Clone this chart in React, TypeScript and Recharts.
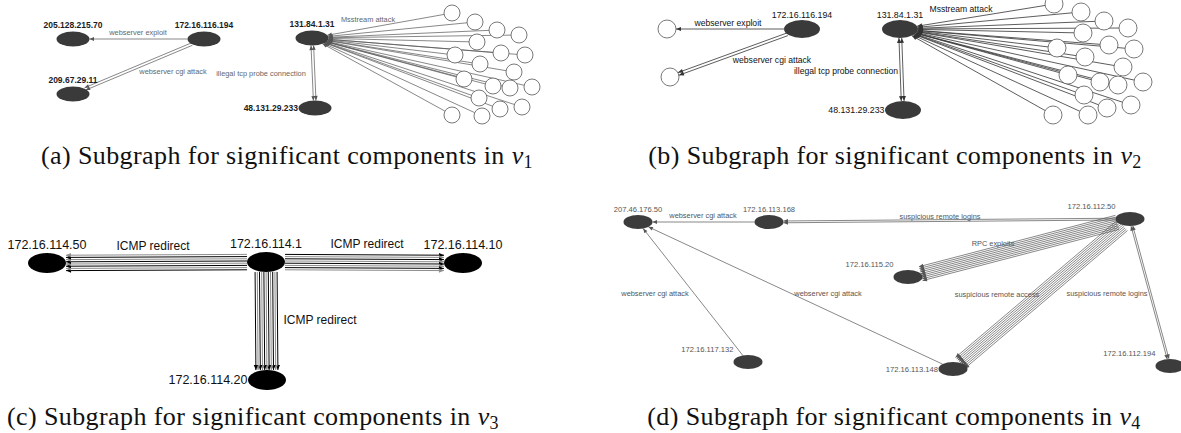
import { ScatterChart, Scatter, XAxis, YAxis, ReferenceLine } from 'recharts';

const WIDTH = 1181;
const HEIGHT = 433;

type Side = 'top' | 'left' | 'topleft';
type GraphNode = { id: string; label?: string; x: number; y: number; kind: 'host' | 'peer'; side?: Side };
type GraphEdge = { from: string; to: string; count: number; arrow: 'end' | 'both' };
type EdgeText = { text: string; x: number; y: number };

// ---- (a) alert subgraph, window v1 ----
const hostsA: GraphNode[] = [
  { id: 'a205', label: '205.128.215.70', x: 73, y: 39, kind: 'host', side: 'top' },
  { id: 'a116', label: '172.16.116.194', x: 204, y: 39, kind: 'host', side: 'top' },
  { id: 'a209', label: '209.67.29.11', x: 73, y: 94, kind: 'host', side: 'top' },
  { id: 'a131', label: '131.84.1.31', x: 312, y: 38, kind: 'host', side: 'top' },
  { id: 'a48', label: '48.131.29.233', x: 315, y: 108, kind: 'host', side: 'left' },
];
const mstreamPeersA: [number, number][] = [
  [452, 13], [475, 22], [497, 30], [519, 35], [477, 42], [455, 55], [501, 53], [525, 55],
  [480, 64], [514, 72], [464, 79], [493, 86], [510, 88], [532, 87], [479, 98], [500, 109],
  [522, 107], [452, 115], [482, 116],
];
const edgesA: GraphEdge[] = [
  { from: 'a116', to: 'a205', count: 1, arrow: 'end' },
  { from: 'a116', to: 'a209', count: 2, arrow: 'end' },
  { from: 'a131', to: 'a48', count: 2, arrow: 'both' },
];
const textsA: EdgeText[] = [
  { text: 'webserver exploit', x: 138, y: 32 },
  { text: 'webserver cgi attack', x: 173, y: 71 },
  { text: 'illegal tcp probe connection', x: 261, y: 73 },
  { text: 'Msstream attack', x: 368, y: 19 },
];

// ---- (b) alert subgraph, window v2 ----
const hostsB: GraphNode[] = [
  { id: 'bp1', x: 667, y: 29, kind: 'peer' },
  { id: 'bp2', x: 670, y: 77, kind: 'peer' },
  { id: 'b116', label: '172.16.116.194', x: 802, y: 29, kind: 'host', side: 'top' },
  { id: 'b131', label: '131.84.1.31', x: 900, y: 29, kind: 'host', side: 'top' },
  { id: 'b48', label: '48.131.29.233', x: 903, y: 110, kind: 'host', side: 'left' },
];
const mstreamPeersB: [number, number][] = [
  [1054, 4], [1081, 12], [1104, 21], [1128, 28], [1083, 33], [1057, 48], [1109, 45], [1134, 49],
  [1085, 57], [1123, 67], [1068, 75], [1100, 82], [1118, 85], [1143, 82], [1084, 95], [1107, 108],
  [1131, 105], [1053, 115], [1088, 115],
];
const edgesB: GraphEdge[] = [
  { from: 'b116', to: 'bp1', count: 1, arrow: 'end' },
  { from: 'b116', to: 'bp2', count: 2, arrow: 'end' },
  { from: 'b131', to: 'b48', count: 2, arrow: 'both' },
];
const textsB: EdgeText[] = [
  { text: 'webserver exploit', x: 728, y: 23 },
  { text: 'webserver cgi attack', x: 772, y: 60 },
  { text: 'illegal tcp probe connection', x: 846, y: 71 },
  { text: 'Msstream attack', x: 961, y: 9 },
];

// ---- (c) ICMP redirect star, window v3 ----
const hostsC: GraphNode[] = [
  { id: 'c50', label: '172.16.114.50', x: 47, y: 263, kind: 'host', side: 'top' },
  { id: 'c1', label: '172.16.114.1', x: 266, y: 262, kind: 'host', side: 'top' },
  { id: 'c10', label: '172.16.114.10', x: 463, y: 263, kind: 'host', side: 'top' },
  { id: 'c20', label: '172.16.114.20', x: 267, y: 380, kind: 'host', side: 'left' },
];
const edgesC: GraphEdge[] = [
  { from: 'c1', to: 'c50', count: 8, arrow: 'end' },
  { from: 'c1', to: 'c10', count: 8, arrow: 'end' },
  { from: 'c1', to: 'c20', count: 11, arrow: 'end' },
];
const textsC: EdgeText[] = [
  { text: 'ICMP redirect', x: 153, y: 246 },
  { text: 'ICMP redirect', x: 367, y: 244 },
  { text: 'ICMP redirect', x: 320, y: 320 },
];

// ---- (d) alert subgraph, window v4 ----
const hostsD: GraphNode[] = [
  { id: 'd207', label: '207.46.176.50', x: 638, y: 222, kind: 'host', side: 'top' },
  { id: 'd168', label: '172.16.113.168', x: 769, y: 222, kind: 'host', side: 'top' },
  { id: 'd50', label: '172.16.112.50', x: 1130, y: 219, kind: 'host', side: 'topleft' },
  { id: 'd115', label: '172.16.115.20', x: 908, y: 277, kind: 'host', side: 'topleft' },
  { id: 'd117', label: '172.16.117.132', x: 748, y: 362, kind: 'host', side: 'topleft' },
  { id: 'd148', label: '172.16.113.148', x: 953, y: 369, kind: 'host', side: 'left' },
  { id: 'd194', label: '172.16.112.194', x: 1170, y: 366, kind: 'host', side: 'topleft' },
];
const edgesD: GraphEdge[] = [
  { from: 'd168', to: 'd207', count: 1, arrow: 'end' },
  { from: 'd50', to: 'd168', count: 2, arrow: 'end' },
  { from: 'd50', to: 'd115', count: 9, arrow: 'end' },
  { from: 'd50', to: 'd148', count: 9, arrow: 'end' },
  { from: 'd50', to: 'd194', count: 2, arrow: 'both' },
  { from: 'd117', to: 'd207', count: 1, arrow: 'end' },
  { from: 'd148', to: 'd207', count: 1, arrow: 'end' },
];
const textsD: EdgeText[] = [
  { text: 'webserver cgi attack', x: 703, y: 215 },
  { text: 'suspicious remote logins', x: 940, y: 216 },
  { text: 'RPC exploits', x: 993, y: 243 },
  { text: 'webserver cgi attack', x: 655, y: 293 },
  { text: 'webserver cgi attack', x: 828, y: 293 },
  { text: 'suspicious remote access', x: 997, y: 294 },
  { text: 'suspicious remote logins', x: 1107, y: 293 },
];

const captionTags = ['a', 'b', 'c', 'd'];
const captionWindows = ['1', '2', '3', '4'];

type PanelStyle = {
  rx: number; ry: number; r: number; fill: string;
  labelSize: number; labelWeight: number; labelColor: string; labelGap: number;
  edge: string; edgeAlt: string; edgeWidth: number; spacing: number; arrow: number;
  textSize: number; textWeight: number; textColor: string;
};

const STYLE_A: PanelStyle = {
  rx: 16.5, ry: 7.5, r: 8, fill: '#3a3a3a',
  labelSize: 8.5, labelWeight: 700, labelColor: '#1c1c1c', labelGap: 14,
  edge: '#555', edgeAlt: '#555', edgeWidth: 0.7, spacing: 2.6, arrow: 4.5,
  textSize: 7.4, textWeight: 400, textColor: '#666',
};
const STYLE_B: PanelStyle = {
  rx: 18, ry: 9, r: 9, fill: '#3a3a3a',
  labelSize: 8.8, labelWeight: 400, labelColor: '#111', labelGap: 14.5,
  edge: '#333', edgeAlt: '#333', edgeWidth: 0.8, spacing: 2.8, arrow: 5,
  textSize: 8.6, textWeight: 400, textColor: '#111',
};
const STYLE_C: PanelStyle = {
  rx: 19, ry: 10, r: 9, fill: '#000',
  labelSize: 12.5, labelWeight: 400, labelColor: '#111', labelGap: 18,
  edge: '#000', edgeAlt: '#8c8c8c', edgeWidth: 1, spacing: 2.2, arrow: 5,
  textSize: 12, textWeight: 400, textColor: '#111',
};
const STYLE_D: PanelStyle = {
  rx: 14.5, ry: 7, r: 8, fill: '#3c3c3c',
  labelSize: 7.6, labelWeight: 400, labelColor: '#555', labelGap: 12.5,
  edge: '#555', edgeAlt: '#555', edgeWidth: 0.7, spacing: 1.8, arrow: 4.5,
  textSize: 7.4, textWeight: 400, textColor: '#555',
};

const SANS = '"Liberation Sans", Arial, sans-serif';

function withPeers(hosts: GraphNode[], peers: [number, number][], prefix: string): GraphNode[] {
  return [...hosts, ...peers.map(([x, y], i) => ({ id: `${prefix}${i}`, x, y, kind: 'peer' as const }))];
}

function peerEdges(peers: [number, number][], prefix: string, hub: string): GraphEdge[] {
  return peers.map((_, i) => ({ from: `${prefix}${i}`, to: hub, count: 1, arrow: 'end' as const }));
}

// distance from a node centre to its outline along (ux, uy)
function reach(n: GraphNode, ux: number, uy: number, st: PanelStyle) {
  if (n.kind === 'peer') return st.r;
  return 1 / Math.hypot(ux / st.rx, uy / st.ry);
}

function buildSegments(nodes: GraphNode[], edges: GraphEdge[], st: PanelStyle) {
  const byId = new Map(nodes.map(n => [n.id, n]));
  return edges.map(e => {
    const a = byId.get(e.from)!;
    const b = byId.get(e.to)!;
    const len = Math.hypot(b.x - a.x, b.y - a.y);
    const ux = (b.x - a.x) / len;
    const uy = (b.y - a.y) / len;
    const ta = reach(a, ux, uy, st);
    const tb = reach(b, ux, uy, st);
    return {
      ...e,
      x1: a.x + ux * ta,
      y1: a.y + uy * ta,
      x2: b.x - ux * tb,
      y2: b.y - uy * tb,
    };
  });
}

function arrowPath(tx: number, ty: number, ux: number, uy: number, s: number) {
  const bx = tx - ux * s;
  const by = ty - uy * s;
  const w = s * 0.42;
  return `M${tx},${ty}L${bx - uy * w},${by + ux * w}L${bx + uy * w},${by - ux * w}Z`;
}

function drawEdge(p: any, e: GraphEdge, st: PanelStyle) {
  const { x1, y1, x2, y2 } = p;
  const len = Math.hypot(x2 - x1, y2 - y1) || 1;
  const ux = (x2 - x1) / len;
  const uy = (y2 - y1) / len;
  const parts = [];
  for (let k = 0; k < e.count; k++) {
    const o = (k - (e.count - 1) / 2) * st.spacing;
    const ax = x1 - uy * o;
    const ay = y1 + ux * o;
    const bx = x2 - uy * o;
    const by = y2 + ux * o;
    const color = k % 2 ? st.edgeAlt : st.edge;
    parts.push(<line key={`l${k}`} x1={ax} y1={ay} x2={bx} y2={by} stroke={color} strokeWidth={st.edgeWidth} />);
    parts.push(<path key={`e${k}`} d={arrowPath(bx, by, ux, uy, st.arrow)} fill={color} />);
    if (e.arrow === 'both') {
      parts.push(<path key={`s${k}`} d={arrowPath(ax, ay, -ux, -uy, st.arrow)} fill={color} />);
    }
  }
  return <g>{parts}</g>;
}

function drawNode(p: any, st: PanelStyle) {
  const { cx, cy, payload } = p;
  const n = payload as GraphNode;
  if (n.kind === 'peer') {
    return <circle cx={cx} cy={cy} r={st.r} fill="#fff" stroke="#555" strokeWidth={0.8} />;
  }
  let tx = cx;
  let ty = cy - st.labelGap;
  let anchor: 'middle' | 'end' = 'middle';
  if (n.side === 'left') {
    tx = cx - st.rx - 0.5;
    ty = cy;
    anchor = 'end';
  } else if (n.side === 'topleft') {
    tx = cx - st.rx;
    ty = cy - st.labelGap;
    anchor = 'end';
  }
  return (
    <g>
      <ellipse cx={cx} cy={cy} rx={st.rx} ry={st.ry} fill={st.fill} />
      <text
        x={tx}
        y={ty}
        textAnchor={anchor}
        dominantBaseline="central"
        fontFamily={SANS}
        fontSize={st.labelSize}
        fontWeight={st.labelWeight}
        fill={st.labelColor}
      >
        {n.label}
      </text>
    </g>
  );
}

function drawText(p: any, st: PanelStyle) {
  const { cx, cy, payload } = p;
  return (
    <text
      x={cx}
      y={cy}
      textAnchor="middle"
      dominantBaseline="central"
      fontFamily={SANS}
      fontSize={st.textSize}
      fontWeight={st.textWeight}
      fill={st.textColor}
    >
      {payload.text}
    </text>
  );
}

const nodesA = withPeers(hostsA, mstreamPeersA, 'pa');
const nodesB = withPeers(hostsB, mstreamPeersB, 'pb');

const panels = [
  { key: 'a', st: STYLE_A, nodes: nodesA, texts: textsA, segs: buildSegments(nodesA, [...edgesA, ...peerEdges(mstreamPeersA, 'pa', 'a131')], STYLE_A) },
  { key: 'b', st: STYLE_B, nodes: nodesB, texts: textsB, segs: buildSegments(nodesB, [...edgesB, ...peerEdges(mstreamPeersB, 'pb', 'b131')], STYLE_B) },
  { key: 'c', st: STYLE_C, nodes: hostsC, texts: textsC, segs: buildSegments(hostsC, edgesC, STYLE_C) },
  { key: 'd', st: STYLE_D, nodes: hostsD, texts: textsD, segs: buildSegments(hostsD, edgesD, STYLE_D) },
];

// caption centres and baselines for the four sub-figures
const captionSpots = [
  { cx: 287, base: 165 },
  { cx: 895, base: 165 },
  { cx: 253, base: 426 },
  { cx: 894, base: 426 },
];

export default function App() {
  return (
    <div style={{ position: 'absolute', left: 0, top: 0, width: WIDTH, height: HEIGHT, background: '#fff' }}>
      <ScatterChart width={WIDTH} height={HEIGHT} margin={{ top: 0, right: 0, bottom: 0, left: 0 }}>
        <XAxis type="number" dataKey="x" domain={[0, WIDTH]} allowDataOverflow hide />
        <YAxis type="number" dataKey="y" domain={[0, HEIGHT]} allowDataOverflow reversed hide />
        {panels.flatMap(pn =>
          pn.segs.map((s, i) => (
            <ReferenceLine
              key={`${pn.key}-edge-${i}`}
              segment={[{ x: s.x1, y: s.y1 }, { x: s.x2, y: s.y2 }]}
              shape={(p: any) => drawEdge(p, s, pn.st)}
            />
          )),
        )}
        {panels.map(pn => (
          <Scatter
            key={`${pn.key}-nodes`}
            name={`nodes-${pn.key}`}
            data={pn.nodes}
            shape={(p: any) => drawNode(p, pn.st)}
            isAnimationActive={false}
          />
        ))}
        {panels.map(pn => (
          <Scatter
            key={`${pn.key}-texts`}
            name={`texts-${pn.key}`}
            data={pn.texts}
            shape={(p: any) => drawText(p, pn.st)}
            isAnimationActive={false}
          />
        ))}
      </ScatterChart>
      {captionSpots.map((c, i) => (
        <div
          key={captionTags[i]}
          style={{
            position: 'absolute',
            left: c.cx - 300,
            top: c.base - 22,
            width: 600,
            textAlign: 'center',
            fontFamily: '"Liberation Serif", "Times New Roman", serif',
            fontSize: 26,
            lineHeight: '26px',
            letterSpacing: 0.4,
            color: '#111',
            whiteSpace: 'nowrap',
          }}
        >
          ({captionTags[i]}) Subgraph for significant components in{' '}
          <i>v</i>
          <span style={{ fontSize: 18, position: 'relative', top: 4 }}>{captionWindows[i]}</span>
        </div>
      ))}
    </div>
  );
}
